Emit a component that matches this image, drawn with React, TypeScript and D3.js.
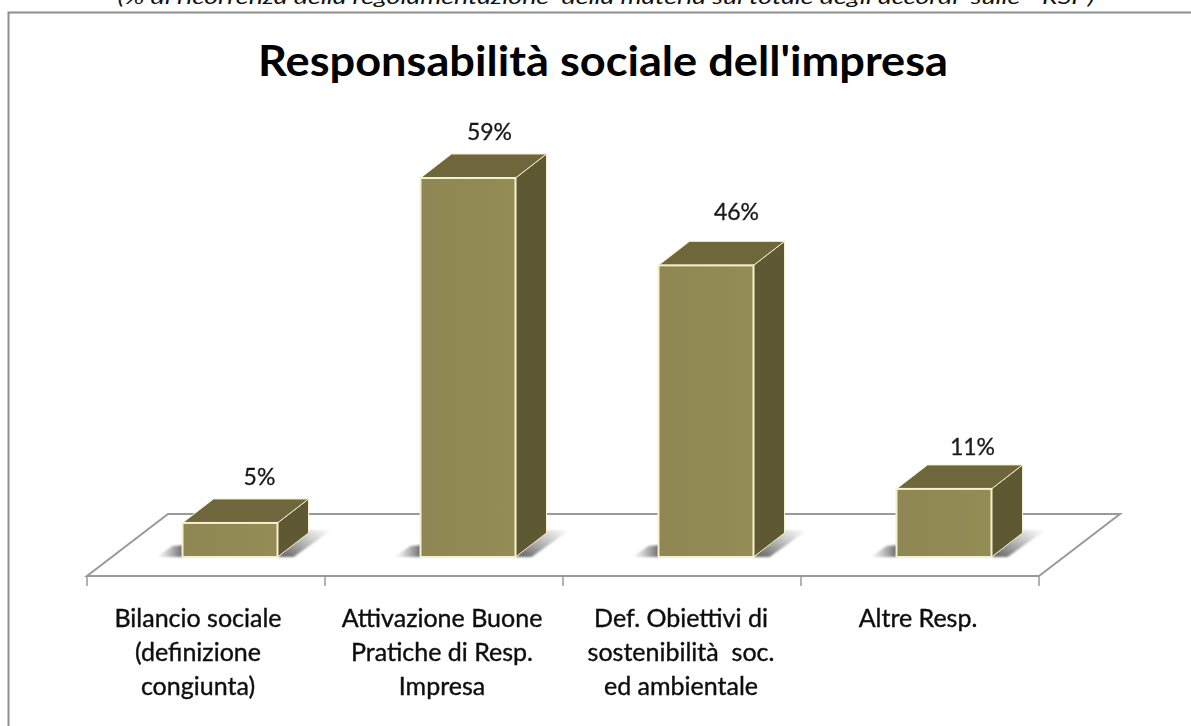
import React from "react";
import * as d3 from "d3";

const categories = ["Bilancio sociale", "Attivazione Buone", "Def. Obiettivi", "Altre Resp."];
const categoryLines = [
  ["Bilancio sociale", "(definizione", "congiunta)"],
  ["Attivazione Buone", "Pratiche di Resp.", "Impresa"],
  ["Def. Obiettivi di", "sostenibilità  soc.", "ed ambientale"],
  ["Altre Resp."],
];
const barValues = [5.3, 59, 45.4, 10.6];
const valueLabels = ["5%", "59%", "46%", "11%"];
const titleText = "Responsabilità sociale dell'impresa";
const noteText = "(% di ricorrenza della regolamentazione  della materia sul totale degli accordi  sulle  \u201CRSI\u201D)";

const W = 1191, H = 726;
const FONT = "Lato, Carlito, sans-serif";
const depthX = 31, depthY = -24;
const floorFront = 576, floorBack = 514, floorL = 87, floorR = 1039;
const labelDx = [77, 69, 78, 76];
const labelDy = [-38, -38, -45, -34];
const catDx = [-8, -2, -1, -2];

const x = d3.scaleBand<string>().domain(categories).range([floorL, floorR]);
const y = d3.scaleLinear().domain([0, 59]).range([557, 178]);
const barW = 95;

const poly = (pts: [number, number][]) => d3.line()(pts)! + "Z";

export default function App() {
  return (
    <svg width={W} height={H} viewBox={`0 0 ${W} ${H}`}
      style={{ position: "fixed", left: 0, top: 0, display: "block", background: "#fff" }}>
      <defs>
        <linearGradient id="shL" x1="0" x2="1" y1="0" y2="0">
          <stop offset="0" stopColor="#8a8a8a" stopOpacity="0" />
          <stop offset="1" stopColor="#5e5e5e" stopOpacity="1" />
        </linearGradient>
        <linearGradient id="shR" x1="0" x2="1" y1="1" y2="0">
          <stop offset="0.1" stopColor="#666" stopOpacity="0.95" />
          <stop offset="1" stopColor="#8a8a8a" stopOpacity="0" />
        </linearGradient>
        <linearGradient id="front" x1="0" x2="1" y1="0" y2="0">
          <stop offset="0" stopColor="#8f8753" />
          <stop offset="1" stopColor="#948c55" />
        </linearGradient>
        <filter id="soft" x="-20%" y="-20%" width="140%" height="140%">
          <feGaussianBlur stdDeviation="1.2" />
        </filter>
        <filter id="txt" x="-5%" y="-20%" width="110%" height="140%">
          <feGaussianBlur stdDeviation="0.3" />
        </filter>
      </defs>

      <text x={606} y={4} textAnchor="middle" fontFamily={FONT} fontStyle="italic" fontSize={20}
        textLength={977} lengthAdjust="spacingAndGlyphs" fill="#111" style={{ whiteSpace: "pre" }}>{noteText}</text>

      <path d={`M${8.5},${H}V12.5H${W}`} fill="none" stroke="#8e8e8e" strokeWidth={2} />

      {/* floor */}
      <path d={poly([[floorL, floorFront], [floorR, floorFront], [floorR + 81, floorBack], [floorL + 81, floorBack]])}
        fill="#fff" stroke="#9a9a9a" strokeWidth={2} />
      {d3.range(categories.length + 1).map((i) => {
        const tx = i < categories.length ? x(categories[i])! : floorR;
        return <line key={i} x1={tx} x2={tx} y1={floorFront} y2={586} stroke="#9a9a9a" strokeWidth={1.5} />;
      })}

      {categories.map((c, i) => {
        const centre = x(c)! + x.bandwidth() / 2;
        const left = centre - barW / 2 + 24;
        const right = left + barW;
        const top = y(barValues[i]);
        const base = y(0);
        const stroke = "#f5f0cf";
        return (
          <g key={c}>
            <g filter="url(#soft)">
              <path d={poly([[left - 26, base], [left + 2, base], [left + 2, base - 12], [left - 10, base - 11]])} fill="url(#shL)" />
              <path d={poly([[right, base], [right + 16, base], [right + 54, base - 27], [right + 26, base - 27]])} fill="url(#shR)" />
            </g>
            <path d={poly([[right, top], [right + depthX, top + depthY], [right + depthX, base + depthY], [right, base]])} fill="#5e5833" stroke={stroke} strokeWidth={1} />
            <path d={poly([[left, top], [left + depthX, top + depthY], [right + depthX, top + depthY], [right, top]])} fill="#6e673c" stroke={stroke} strokeWidth={1} />
            <rect x={left} y={top} width={barW} height={base - top} fill="url(#front)" stroke={stroke} strokeWidth={2} />
            <text x={left + labelDx[i]} y={top + labelDy[i]} textAnchor="middle" fontFamily={FONT} fontSize={23} fill="#1a1a1a" stroke="#1a1a1a" strokeWidth={0.3} filter="url(#txt)">{valueLabels[i]}</text>
            {categoryLines[i].map((ln, j) => (
              <text key={j} x={centre + catDx[i]} y={627 + j * 34} textAnchor="middle" fontFamily={FONT}
                fontSize={25} fill="#111" stroke="#111" strokeWidth={0.4} filter="url(#txt)" style={{ whiteSpace: "pre" }}>{ln}</text>
            ))}
          </g>
        );
      })}

      <text x={603} y={76} textAnchor="middle" fontFamily={FONT} fontWeight={700} fontSize={42}
        textLength={690} lengthAdjust="spacingAndGlyphs" fill="#000">{titleText}</text>
    </svg>
  );
}
